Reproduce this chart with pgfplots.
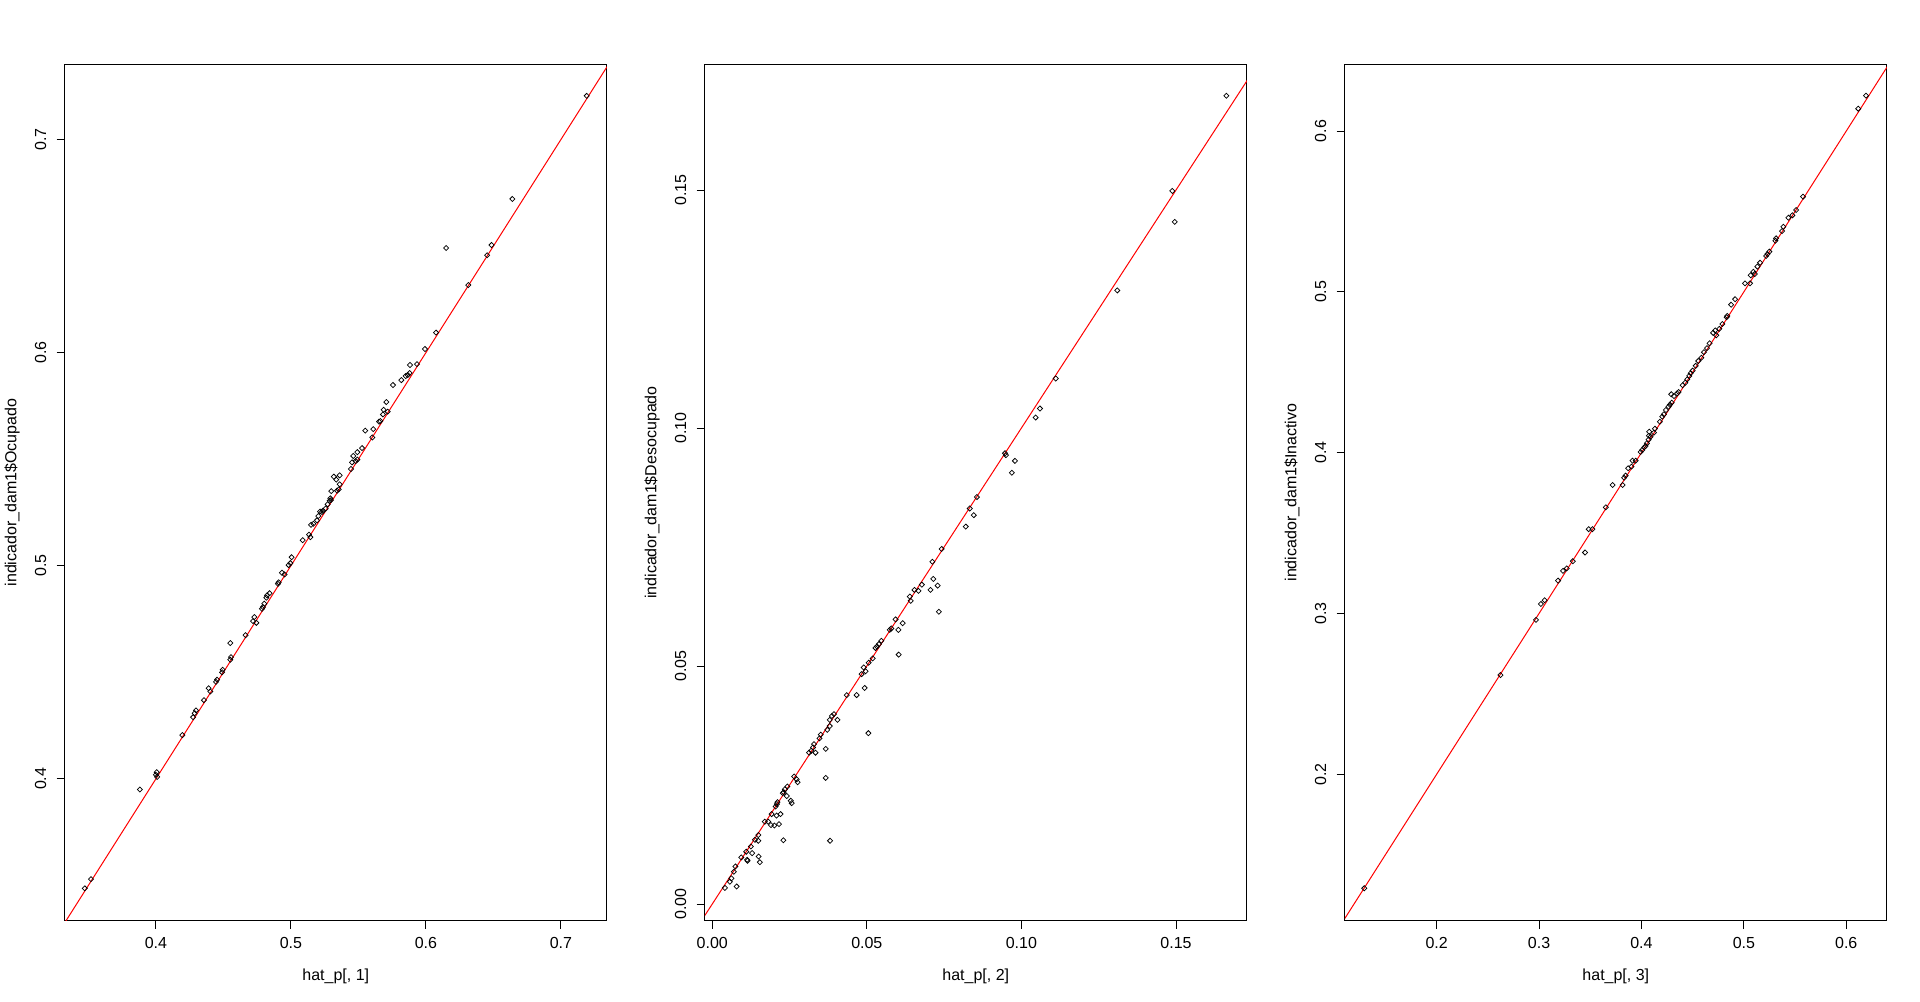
\documentclass[border=0pt]{standalone}
\usepackage{fontspec}
\setmainfont{Liberation Sans}
\usepackage{pgfplots}
\pgfplotsset{compat=1.18}
\begin{document}
\fontsize{12}{14}\selectfont
\begin{tikzpicture}[font=\fontsize{12}{14}\selectfont]
\pgfplotsset{
  rstyle/.style={
    scale only axis, width=406.5pt, height=642.3pt, anchor=south west,
    axis line style={line width=0.75pt, black},
    tick style={line width=0.75pt, black},
    tick align=outside, major tick length=6.2pt,
    xtick pos=left, ytick pos=left,
    minor tick num=0,
    tick label style={font=\fontsize{12}{14}\selectfont},
    xticklabel style={anchor=north, inner sep=0pt},
    yticklabel style={rotate=90, anchor=south, inner sep=0pt},
    xticklabel shift=6.3pt, yticklabel shift=7.5pt,
    label style={font=\fontsize{12}{14}\selectfont, inner sep=0pt},
    xlabel style={at={([yshift=-44.5pt]axis description cs:0.5,0)}, anchor=base},
    ylabel style={at={([xshift=-36.4pt]axis description cs:0,0.5)}, anchor=base},
  },
  rmark/.style={only marks, mark=square, mark size=1.35pt, mark options={rotate=45, line width=0.55pt, black, fill=none}},
  rline/.style={red, line width=0.75pt, no marks},
}
\path[use as bounding box] (0,0) rectangle (1440pt,750.75pt);

% Panel 1
\begin{axis}[rstyle, at={(48.6pt,60.2pt)},
  xmin=0.3325, xmax=0.7340, ymin=0.3334, ymax=0.7353,
  xtick={0.4,0.5,0.6,0.7}, xticklabels={0.4,0.5,0.6,0.7},
  ytick={0.4,0.5,0.6,0.7}, yticklabels={0.4,0.5,0.6,0.7},
  xlabel={hat\_p[, 1]}, ylabel={indicador\_dam1\$Ocupado}]
\addplot[rmark] coordinates {
(0.3473,0.3486) (0.3519,0.3529) (0.3881,0.3950) (0.4000,0.4019) (0.4006,0.4031)
(0.4009,0.4009) (0.4196,0.4205) (0.4275,0.4289) (0.4287,0.4308) (0.4297,0.4321)
(0.4356,0.4369) (0.4390,0.4425) (0.4403,0.4410) (0.4445,0.4455) (0.4453,0.4465)
(0.4490,0.4500) (0.4494,0.4512) (0.4551,0.4559) (0.4556,0.4571) (0.4551,0.4637)
(0.4664,0.4674) (0.4719,0.4740) (0.4729,0.4759) (0.4744,0.4732) (0.4786,0.4798)
(0.4793,0.4806) (0.4803,0.4822) (0.4818,0.4850) (0.4823,0.4861) (0.4842,0.4871)
(0.4904,0.4915) (0.4909,0.4922) (0.4934,0.4967) (0.4953,0.4959) (0.4983,0.5003)
(0.4996,0.5012) (0.5005,0.5040) (0.5087,0.5120) (0.5134,0.5146) (0.5144,0.5134)
(0.5149,0.5192) (0.5166,0.5197) (0.5193,0.5213) (0.5203,0.5233) (0.5216,0.5254)
(0.5230,0.5252) (0.5238,0.5258) (0.5257,0.5268) (0.5272,0.5288) (0.5287,0.5305)
(0.5292,0.5316) (0.5297,0.5308) (0.5299,0.5350) (0.5342,0.5352) (0.5354,0.5358)
(0.5361,0.5382) (0.5336,0.5404) (0.5318,0.5418) (0.5361,0.5424) (0.5445,0.5454)
(0.5453,0.5485) (0.5480,0.5491) (0.5492,0.5498) (0.5462,0.5515) (0.5492,0.5533)
(0.5527,0.5552) (0.5603,0.5602) (0.5551,0.5634) (0.5610,0.5641) (0.5653,0.5676)
(0.5662,0.5679) (0.5682,0.5710) (0.5717,0.5723) (0.5687,0.5732) (0.5707,0.5768)
(0.5756,0.5848) (0.5818,0.5871) (0.5850,0.5890) (0.5865,0.5895) (0.5879,0.5904)
(0.5882,0.5942) (0.5934,0.5946) (0.5993,0.6017) (0.6075,0.6094) (0.6314,0.6317)
(0.6453,0.6457) (0.6486,0.6505) (0.6150,0.6491) (0.6640,0.6721) (0.7191,0.7205)
};
\addplot[rline] coordinates {(0,0) (1,1)};
\end{axis}

% Panel 2
\begin{axis}[rstyle, at={(528.6pt,60.2pt)},
  xmin=-0.0024, xmax=0.1729, ymin=-0.0035, ymax=0.1764,
  xtick={0,0.05,0.10,0.15}, xticklabels={0.00,0.05,0.10,0.15},
  ytick={0,0.05,0.10,0.15}, yticklabels={0.00,0.05,0.10,0.15},
  xlabel={hat\_p[, 2]}, ylabel={indicador\_dam1\$Desocupado}]
\addplot[rmark] coordinates {
(0.0041,0.0034) (0.0079,0.0037) (0.0057,0.0047) (0.0062,0.0054) (0.0070,0.0068)
(0.0075,0.0079) (0.0094,0.0098) (0.0113,0.0093) (0.0114,0.0091) (0.0150,0.0100)
(0.0154,0.0088) (0.0110,0.0110) (0.0129,0.0107) (0.0125,0.0121) (0.0138,0.0135)
(0.0149,0.0133) (0.0230,0.0134) (0.0381,0.0133) (0.0149,0.0145) (0.0170,0.0173)
(0.0181,0.0173) (0.0190,0.0166) (0.0201,0.0165) (0.0216,0.0168) (0.0192,0.0189)
(0.0221,0.0189) (0.0208,0.0186) (0.0211,0.0214) (0.0209,0.0210) (0.0205,0.0205)
(0.0254,0.0217) (0.0257,0.0212) (0.0241,0.0227) (0.0243,0.0247) (0.0235,0.0241)
(0.0231,0.0235) (0.0228,0.0233) (0.0265,0.0268) (0.0273,0.0262) (0.0276,0.0256)
(0.0367,0.0265) (0.0313,0.0318) (0.0334,0.0318) (0.0320,0.0322) (0.0326,0.0329)
(0.0329,0.0336) (0.0367,0.0326) (0.0347,0.0348) (0.0351,0.0356) (0.0372,0.0366)
(0.0380,0.0374) (0.0380,0.0387) (0.0405,0.0387) (0.0387,0.0395) (0.0394,0.0399)
(0.0435,0.0439) (0.0467,0.0439) (0.0493,0.0454) (0.0505,0.0359) (0.0483,0.0483)
(0.0496,0.0489) (0.0490,0.0497) (0.0506,0.0507) (0.0519,0.0516) (0.0533,0.0541)
(0.0528,0.0538) (0.0539,0.0546) (0.0547,0.0553) (0.0603,0.0524) (0.0574,0.0576)
(0.0579,0.0579) (0.0602,0.0576) (0.0593,0.0598) (0.0616,0.0590) (0.0639,0.0646)
(0.0642,0.0637) (0.0733,0.0614) (0.0654,0.0660) (0.0667,0.0658) (0.0678,0.0671)
(0.0706,0.0660) (0.0715,0.0683) (0.0729,0.0669) (0.0712,0.0719) (0.0742,0.0746)
(0.0820,0.0793) (0.0833,0.0831) (0.0846,0.0817) (0.0856,0.0855) (0.0947,0.0947)
(0.0950,0.0943) (0.0979,0.0931) (0.0969,0.0906) (0.1046,0.1022) (0.1060,0.1041)
(0.1111,0.1104) (0.1310,0.1289) (0.1488,0.1498) (0.1496,0.1433) (0.1663,0.1698)
};
\addplot[rline] coordinates {(-0.1,-0.1) (1,1)};
\end{axis}

% Panel 3
\begin{axis}[rstyle, at={(1008.6pt,60.2pt)},
  xmin=0.1103, xmax=0.6396, ymin=0.1089, ymax=0.6415,
  xtick={0.2,0.3,0.4,0.5,0.6}, xticklabels={0.2,0.3,0.4,0.5,0.6},
  ytick={0.2,0.3,0.4,0.5,0.6}, yticklabels={0.2,0.3,0.4,0.5,0.6},
  xlabel={hat\_p[, 3]}, ylabel={indicador\_dam1\$Inactivo}]
\addplot[rmark] coordinates {
(0.1293,0.1291) (0.2623,0.2617) (0.2970,0.2960) (0.3018,0.3059) (0.3054,0.3082)
(0.3186,0.3204) (0.3234,0.3265) (0.3270,0.3280) (0.3330,0.3325) (0.3449,0.3379)
(0.3485,0.3524) (0.3521,0.3524) (0.3652,0.3660) (0.3718,0.3799) (0.3816,0.3799)
(0.3831,0.3844) (0.3845,0.3857) (0.3870,0.3903) (0.3903,0.3913) (0.3913,0.3950)
(0.3943,0.3950) (0.3992,0.4004) (0.4007,0.4016) (0.4027,0.4033) (0.4040,0.4041)
(0.4053,0.4058) (0.4070,0.4081) (0.4089,0.4099) (0.4073,0.4105) (0.4076,0.4130)
(0.4122,0.4124) (0.4131,0.4149) (0.4180,0.4192) (0.4203,0.4224) (0.4219,0.4238)
(0.4239,0.4265) (0.4265,0.4286) (0.4278,0.4298) (0.4295,0.4311) (0.4291,0.4363)
(0.4317,0.4352) (0.4349,0.4369) (0.4363,0.4377) (0.4402,0.4419) (0.4428,0.4435)
(0.4447,0.4456) (0.4467,0.4477) (0.4480,0.4494) (0.4500,0.4510) (0.4530,0.4540)
(0.4555,0.4570) (0.4585,0.4590) (0.4610,0.4625) (0.4640,0.4650) (0.4665,0.4680)
(0.4700,0.4745) (0.4720,0.4760) (0.4730,0.4730) (0.4760,0.4770) (0.4790,0.4800)
(0.4832,0.4842) (0.4838,0.4850) (0.4875,0.4920) (0.4914,0.4954) (0.5011,0.5053)
(0.5060,0.5053) (0.5067,0.5103) (0.5093,0.5125) (0.5106,0.5111) (0.5132,0.5157)
(0.5158,0.5181) (0.5217,0.5223) (0.5230,0.5235) (0.5249,0.5250) (0.5308,0.5318)
(0.5314,0.5333) (0.5373,0.5378) (0.5386,0.5405) (0.5435,0.5461) (0.5474,0.5476)
(0.5510,0.5509) (0.5578,0.5592) (0.6117,0.6139) (0.6193,0.6220)
};
\addplot[rline] coordinates {(0,0) (1,1)};
\end{axis}
\end{tikzpicture}
\end{document}
